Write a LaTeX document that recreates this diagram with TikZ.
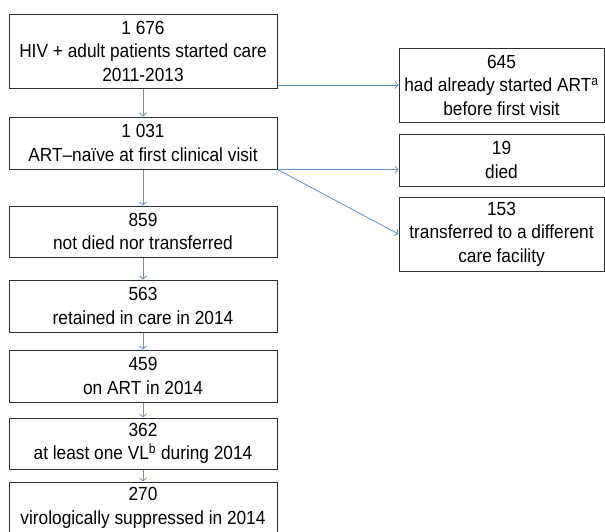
\documentclass[tikz,border=0pt]{standalone}
\usepackage{fontspec}
\setmainfont{Liberation Sans}[FakeStretch = 0.91]
\usetikzlibrary{arrows.meta}
\definecolor{flowblue}{RGB}{91,143,208}
\definecolor{boxgray}{RGB}{45,45,45}
\begin{document}
\begin{tikzpicture}[x = 1pt, y = -1pt,
  flowbox/.style = {draw = boxgray, line width = 1pt, minimum width = 268pt, minimum height = 52pt, inner sep = 0pt, align = center, font = \fontsize{19}{23.5}\selectfont},
  sidebox/.style = {flowbox, minimum width = 205pt},
  flowarrow/.style = {draw = flowblue, line width = 0.8pt, -{Straight Barb[length = 3pt, width = 7pt]}}]
\useasboundingbox (0,0) rectangle (605,531);
% main column
\node[flowbox, minimum height = 74pt] (started) at (143,51) {1 676\\HIV + adult patients started care\\2011-2013};
\node[flowbox] (naive) at (143,143) {1 031\\ART--naïve at first clinical visit};
\node[flowbox, minimum height = 51pt] (alive) at (143,231.5) {859\\not died nor transferred};
\node[flowbox] (retained) at (143,306) {563\\retained in care in 2014};
\node[flowbox] (onart) at (143,376) {459\\on ART in 2014};
\node[flowbox, minimum height = 51pt] (vltest) at (143,443.5) {362\\at least one VL\textsuperscript{b} during 2014};
\node[flowbox] (suppressed) at (143,508) {270\\virologically suppressed in 2014};
% side column
\node[sidebox, minimum height = 74pt] (prior) at (501.5,85) {645\\had already started ART\textsuperscript{a}\\before first visit};
\node[sidebox] (died) at (501.5,160) {19\\died};
\node[sidebox, minimum height = 74pt] (transfer) at (501.5,234) {153\\transferred to a different\\care facility};
\foreach \a/\b in {started/naive, naive/alive, alive/retained, retained/onart, onart/vltest, vltest/suppressed}
  \draw[flowarrow] (\a) -- (\b);
\draw[flowarrow] (started.east |- prior.west) -- (prior.west);
\draw[flowarrow] (naive.south east) -- (naive.south east -| died.west);
\draw[flowarrow] (naive.south east) -- (transfer.west);
\end{tikzpicture}
\end{document}
